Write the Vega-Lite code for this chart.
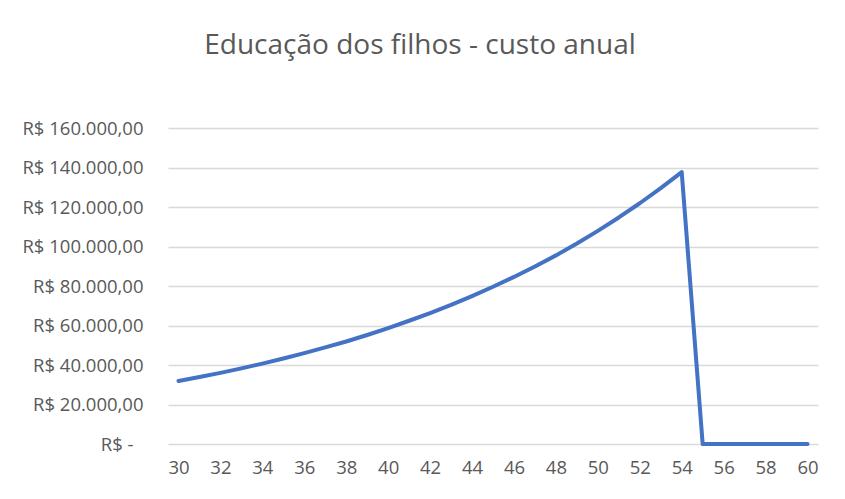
{
  "$schema": "https://vega.github.io/schema/vega-lite/v6.json",
  "width": 650,
  "height": 316,
  "autosize": {"type": "none"},
  "padding": {"left": 168, "top": 128, "right": 27, "bottom": 55},
  "background": "white",
  "title": {
    "text": "Educação dos filhos - custo anual",
    "font": "Open Sans",
    "fontSize": 28,
    "fontWeight": "normal",
    "color": "#595959",
    "anchor": "middle",
    "frame": "group",
    "dx": -73,
    "baseline": "alphabetic",
    "offset": 37
  },
  "data": {
    "values": [
      {"idade": 30, "custo": 31900},
      {"idade": 31, "custo": 33900},
      {"idade": 32, "custo": 36000},
      {"idade": 33, "custo": 38300},
      {"idade": 34, "custo": 40700},
      {"idade": 35, "custo": 43300},
      {"idade": 36, "custo": 46000},
      {"idade": 37, "custo": 48900},
      {"idade": 38, "custo": 51900},
      {"idade": 39, "custo": 55200},
      {"idade": 40, "custo": 58700},
      {"idade": 41, "custo": 62400},
      {"idade": 42, "custo": 66300},
      {"idade": 43, "custo": 70400},
      {"idade": 44, "custo": 74900},
      {"idade": 45, "custo": 79600},
      {"idade": 46, "custo": 84600},
      {"idade": 47, "custo": 89900},
      {"idade": 48, "custo": 95500},
      {"idade": 49, "custo": 101500},
      {"idade": 50, "custo": 107900},
      {"idade": 51, "custo": 114700},
      {"idade": 52, "custo": 121900},
      {"idade": 53, "custo": 129600},
      {"idade": 54, "custo": 137700},
      {"idade": 55, "custo": 0},
      {"idade": 56, "custo": 0},
      {"idade": 57, "custo": 0},
      {"idade": 58, "custo": 0},
      {"idade": 59, "custo": 0},
      {"idade": 60, "custo": 0}
    ]
  },
  "mark": {"type": "line", "color": "#4472C4", "strokeWidth": 4, "strokeJoin": "round", "strokeCap": "round"},
  "encoding": {
    "x": {
      "field": "idade",
      "type": "quantitative",
      "scale": {"domain": [29.5, 60.5], "nice": false, "zero": false},
      "axis": {
        "title": null,
        "values": [30, 32, 34, 36, 38, 40, 42, 44, 46, 48, 50, 52, 54, 56, 58, 60],
        "grid": false,
        "domain": false,
        "ticks": false,
        "labelPadding": 14,
        "labelFont": "Open Sans",
        "labelFontSize": 18.5,
        "labelColor": "#595959"
      }
    },
    "y": {
      "field": "custo",
      "type": "quantitative",
      "scale": {"domain": [0, 160000], "nice": false},
      "axis": {
        "title": null,
        "values": [0, 20000, 40000, 60000, 80000, 100000, 120000, 140000, 160000],
        "labelExpr": "datum.value == 0 ? 'R$ -' : 'R$ ' + replace(replace(replace(format(datum.value, ',.2f'), ',', '#'), '.', ','), '#', '.')",
        "grid": true,
        "gridColor": "#d9d9d9",
        "gridWidth": 1.6,
        "domain": false,
        "ticks": false,
        "labelPadding": {"condition": {"test": "datum.value == 0", "value": 35}, "value": 25},
        "labelFont": "Open Sans",
        "labelFontSize": 18.5,
        "labelColor": "#595959"
      }
    }
  },
  "config": {"view": {"stroke": null}}
}
